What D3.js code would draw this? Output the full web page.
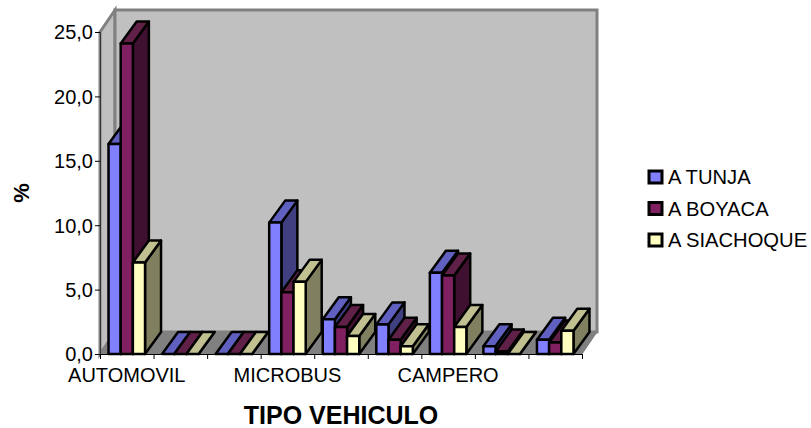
<!DOCTYPE html>
<html>
<head>
<meta charset="utf-8">
<script src="https://cdn.jsdelivr.net/npm/d3@7/dist/d3.min.js"></script>
<style>
html,body{margin:0;padding:0;background:#fff}
svg{display:block}
text{font-family:"Liberation Sans",Arial,sans-serif;fill:#000}
</style>
</head>
<body>
<svg id="chart" width="811" height="428"></svg>
<script>
// Vehicle type shares by destination, drawn as clustered pseudo-3D columns.
const categories = ["AUTOMOVIL", "c2", "c3", "MICROBUS", "c5", "c6", "CAMPERO", "c8", "c9"];
const visibleLabels = ["AUTOMOVIL", "MICROBUS", "CAMPERO"];
const seriesNames = ["A TUNJA", "A BOYACA", "A SIACHOQUE"];
const aTunja = [16.3, 0, 0, 10.2, 2.7, 2.3, 6.3, 0.6, 1.1];
const aBoyaca = [24.1, 0, 0, 4.8, 2.1, 1.1, 6.1, 0.2, 0.9];
const aSiachoque = [7.1, 0, 0, 5.6, 1.4, 0.6, 2.1, 0, 1.8];
const seriesValues = [aTunja, aBoyaca, aSiachoque];
const yTicks = [0, 5, 10, 15, 20, 25];
const frontColors = ["#8080ff", "#802060", "#ffffc0"];
const topColors = ["#6060c0", "#602048", "#c0c090"];
const sideColors = ["#404080", "#401030", "#808060"];

const svg = d3.select("#chart");
const x = d3.scaleBand().domain(categories).range([100, 582]);
const xInner = d3.scaleBand().domain(seriesNames).range([0, x.bandwidth()]).paddingOuter(0.7);
const y = d3.scaleLinear().domain([0, 25]).range([354, 32]);

const wallDx = 15, wallDy = 22;
const barDx = 16, barDy = 22;
const [xL, xR] = x.range();
const [y0, yT] = y.range();
const pts = a => a.map(p => p.join(",")).join(" ");

// Walls and floor of the plot box
const box = svg.append("g").attr("stroke", "#808080").attr("stroke-width", 3).attr("stroke-linejoin", "miter");
box.append("polygon").attr("fill", "#c0c0c0")
  .attr("points", pts([[xL, yT], [xL + wallDx, yT - wallDy], [xL + wallDx, y0 - wallDy], [xL, y0]]));
box.append("polygon").attr("fill", "#c0c0c0")
  .attr("points", pts([[xL + wallDx, yT - wallDy], [xR + wallDx, yT - wallDy], [xR + wallDx, y0 - wallDy], [xL + wallDx, y0 - wallDy]]));
box.append("polygon").attr("fill", "#808080").attr("stroke-width", 1)
  .attr("points", pts([[xL, y0], [xL + wallDx, y0 - wallDy], [xR + wallDx, y0 - wallDy], [xR, y0]]));

// Columns, painted left to right so nearer faces overlap correctly
const bars = svg.append("g").attr("stroke", "#000").attr("stroke-width", 2.5).attr("stroke-linejoin", "round");
categories.forEach((cat, c) => {
  seriesNames.forEach((name, s) => {
    const v = seriesValues[s][c];
    const l = x(cat) + xInner(name);
    const r = l + xInner.bandwidth();
    const t = y(v);
    const g = bars.append("g");
    g.append("polygon").attr("fill", sideColors[s])
      .attr("points", pts([[r, t], [r + barDx, t - barDy], [r + barDx, y0 - barDy], [r, y0]]));
    g.append("polygon").attr("fill", topColors[s])
      .attr("points", pts([[l, t], [l + barDx, t - barDy], [r + barDx, t - barDy], [r, t]]));
    g.append("rect").attr("fill", frontColors[s])
      .attr("x", l).attr("y", t).attr("width", r - l).attr("height", y0 - t);
  });
});

// Value axis
const yAxis = svg.append("g").attr("transform", `translate(${xL},0)`)
  .call(d3.axisLeft(y).tickValues(yTicks).tickSize(5).tickPadding(2)
    .tickFormat(d => d3.format(".1f")(d).replace(".", ",")));
yAxis.selectAll("text").style("font-size", "20px").attr("dy", "0.34em");
yAxis.select(".domain").attr("stroke", "#333").attr("stroke-width", 1);
yAxis.selectAll(".tick line").attr("stroke", "#000");

// Category axis: a tick at every band edge, a name on every third band
const edges = categories.map(c => x(c)).concat(xR);
const xAxis = svg.append("g").attr("transform", `translate(0,${y0})`)
  .call(d3.axisBottom(d3.scaleLinear().domain([xL, xR]).range([xL, xR]))
    .tickValues(edges).tickSize(5).tickSizeOuter(0).tickFormat(""));
xAxis.select(".domain").attr("stroke", "#000");
xAxis.selectAll(".tick line").attr("stroke", "#000");
svg.append("g").selectAll("text").data(visibleLabels).join("text")
  .attr("x", d => x(d) + x.bandwidth() / 2)
  .attr("y", 382)
  .attr("text-anchor", "middle")
  .style("font-size", "20px")
  .text(d => d);

// Axis titles
svg.append("text").attr("x", 341).attr("y", 424).attr("text-anchor", "middle")
  .style("font-size", "25px").style("font-weight", "bold").text("TIPO VEHICULO");
svg.append("text").attr("transform", "translate(29,193) rotate(-90)").attr("text-anchor", "middle")
  .style("font-size", "22px").style("font-weight", "bold").text("%");

// Legend
const rowY = d3.scalePoint().domain(seriesNames).range([177, 240]);
const legend = svg.append("g").selectAll("g").data(seriesNames).join("g")
  .attr("transform", d => `translate(0,${rowY(d)})`);
legend.append("rect").attr("x", 649).attr("y", -6).attr("width", 13).attr("height", 12)
  .attr("fill", (d, i) => frontColors[i]).attr("stroke", "#000").attr("stroke-width", 3);
legend.append("text").attr("x", 668).attr("y", 7).style("font-size", "20.2px").text(d => d);
</script>
</body>
</html>
